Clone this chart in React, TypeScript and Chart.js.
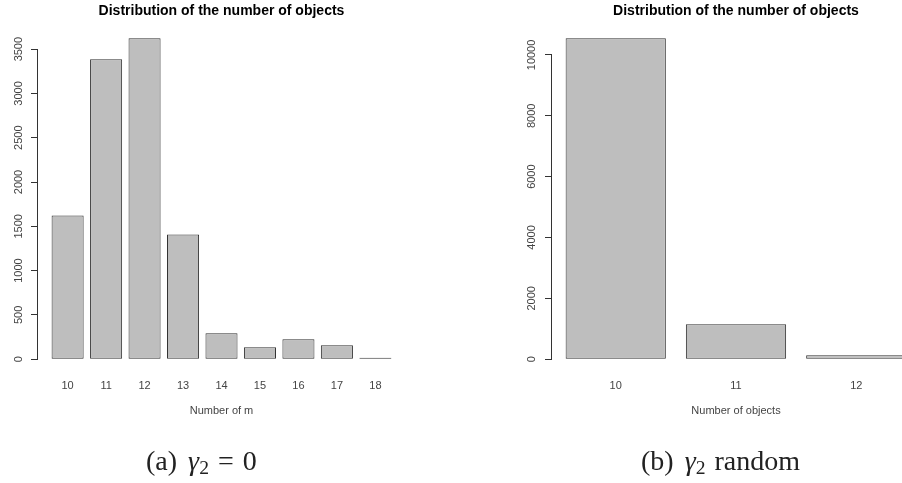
import React, { useEffect, useRef } from "react";
import { Chart, registerables } from "chart.js";

Chart.register(...registerables);

// ---------- data ----------
const chartTitle = "Distribution of the number of objects";

const leftCategories = ["10", "11", "12", "13", "14", "15", "16", "17", "18"];
const leftCounts = [1621, 3386, 3623, 1406, 293, 135, 226, 158, 4];
const leftYTicks = [0, 500, 1000, 1500, 2000, 2500, 3000, 3500];
const leftXTitle = "Number of m";

const rightCategories = ["10", "11", "12"];
const rightCounts = [10549, 1150, 131];
const rightYTicks = [0, 2000, 4000, 6000, 8000, 10000];
const rightXTitle = "Number of objects";

// ---------- styles ----------
const FONT = "'Liberation Sans', Arial, Helvetica, sans-serif";
const BAR_FILL = "#BEBEBE";
const LINE = "#333333";
const LABEL = "#444444";
const H = 483;

const rAxisLine = {
  id: "rAxisLine",
  afterDraw(chart: any) {
    const ys = chart.scales.y;
    const ticks = ys.ticks;
    if (!ticks.length) return;
    const ctx = chart.ctx;
    const x = Math.round(chart.chartArea.left) - 0.5;
    const y0 = Math.round(ys.getPixelForValue(ticks[0].value) - 0.5) + 1;
    const y1 = Math.round(ys.getPixelForValue(ticks[ticks.length - 1].value) - 0.5);
    ctx.save();
    ctx.strokeStyle = LINE;
    ctx.lineWidth = 1;
    ctx.beginPath();
    ctx.moveTo(x, y0);
    ctx.lineTo(x, y1);
    ctx.stroke();
    ctx.restore();
  },
};

type PanelProps = {
  categories: string[];
  counts: number[];
  yTicks: number[];
  xTitle: string;
  width: number;
  left: number;
  yWidth: number;
  yPad: number;
};

function BarPanel({ categories, counts, yTicks, xTitle, width, left, yWidth, yPad }: PanelProps) {
  const ref = useRef<HTMLCanvasElement>(null);
  useEffect(() => {
    // R barplot layout: bar width 1, space 0.2, axes extended by 4%
    const SPACE = 0.2;
    const BW = 1;
    const n = categories.length;
    const centers = categories.map((_, i) => SPACE + i * (BW + SPACE) + BW / 2);
    const lo = SPACE;
    const hi = n * (BW + SPACE);
    const xExt = 0.04 * (hi - lo);
    const yMax = Math.max(...counts);
    const yExt = 0.04 * yMax;

    const chart = new Chart(ref.current as HTMLCanvasElement, {
      type: "bar",
      data: {
        datasets: [
          {
            data: counts.map((v, i) => ({ x: centers[i], y: v })),
            backgroundColor: BAR_FILL,
            borderColor: LINE,
            borderWidth: 1,
            borderSkipped: false,
            minBarLength: 1.5,
            categoryPercentage: 1,
            barPercentage: BW / (BW + SPACE),
          } as any,
        ],
      },
      options: {
        animation: false,
        responsive: false,
        devicePixelRatio: 1,
        layout: { padding: { left: 0, right: 46, top: 0, bottom: 65.4 } },
        plugins: {
          legend: { display: false },
          tooltip: { enabled: false },
          title: {
            display: true,
            text: chartTitle,
            fullSize: false,
            color: "#000",
            font: { family: FONT, size: 14, weight: "bold" },
            padding: { top: 3, bottom: 5.6 },
          },
        },
        scales: {
          x: {
            type: "linear",
            offset: false,
            bounds: "data",
            min: lo - xExt,
            max: hi + xExt,
            grid: { display: false, drawTicks: false },
            border: { display: false },
            afterBuildTicks: (scale: any) => {
              scale.ticks = centers.map((c) => ({ value: c }));
            },
            afterFit: (scale: any) => {
              scale.height = 45.6;
            },
            ticks: {
              autoSkip: false,
              maxRotation: 0,
              padding: 7,
              color: LABEL,
              font: { family: FONT, size: 11 },
              callback: (value: any) => {
                const idx = centers.findIndex((c) => Math.abs(c - value) < 1e-6);
                return idx >= 0 ? categories[idx] : "";
              },
            },
            title: {
              display: true,
              text: xTitle,
              color: LABEL,
              font: { family: FONT, size: 11 },
              padding: 0,
            },
          },
          y: {
            type: "linear",
            min: -yExt,
            max: yMax + yExt,
            grid: {
              display: true,
              drawOnChartArea: false,
              drawTicks: true,
              tickLength: 7,
              color: LINE,
              lineWidth: 1,
            },
            border: { display: false },
            afterBuildTicks: (scale: any) => {
              scale.ticks = yTicks.map((v) => ({ value: v }));
            },
            afterFit: (scale: any) => {
              scale.width = yWidth;
            },
            ticks: {
              autoSkip: false,
              minRotation: 90,
              maxRotation: 90,
              crossAlign: "center",
              padding: yPad,
              color: LABEL,
              font: { family: FONT, size: 11 },
              callback: (value: any) => String(value),
            },
          },
        },
      } as any,
      plugins: [rAxisLine],
    });
    return () => chart.destroy();
  }, []);
  return (
    <canvas
      ref={ref}
      width={width}
      height={H}
      style={{ position: "absolute", left, top: 0, width, height: H }}
    />
  );
}

const captionStyle: React.CSSProperties = {
  position: "absolute",
  top: 447,
  fontFamily: "'Liberation Serif', 'Times New Roman', serif",
  fontSize: 28,
  lineHeight: "28px",
  color: "#222",
  whiteSpace: "nowrap",
};

const subStyle: React.CSSProperties = {
  fontSize: "0.7em",
  fontStyle: "normal",
  verticalAlign: "-0.2em",
  lineHeight: 0,
};

export default function App() {
  return (
    <div
      style={{
        position: "absolute",
        left: 0,
        top: 0,
        width: 902,
        height: H,
        overflow: "hidden",
        background: "#fff",
      }}
    >
      <BarPanel
        categories={leftCategories}
        counts={leftCounts}
        yTicks={leftYTicks}
        xTitle={leftXTitle}
        width={451}
        left={0}
        yWidth={38}
        yPad={0}
      />
      <BarPanel
        categories={rightCategories}
        counts={rightCounts}
        yTicks={rightYTicks}
        xTitle={rightXTitle}
        width={515}
        left={451}
        yWidth={101}
        yPad={-2}
      />
      <div style={{ ...captionStyle, left: 146 }}>
        (a)<span style={{ marginLeft: 11 }}><i>γ</i><sub style={subStyle}>2</sub></span>
        <span style={{ margin: "0 9px" }}>=</span>0
      </div>
      <div style={{ ...captionStyle, left: 641 }}>
        (b)<span style={{ marginLeft: 11 }}><i>γ</i><sub style={subStyle}>2</sub></span>
        <span style={{ marginLeft: 9 }}>random</span>
      </div>
    </div>
  );
}
